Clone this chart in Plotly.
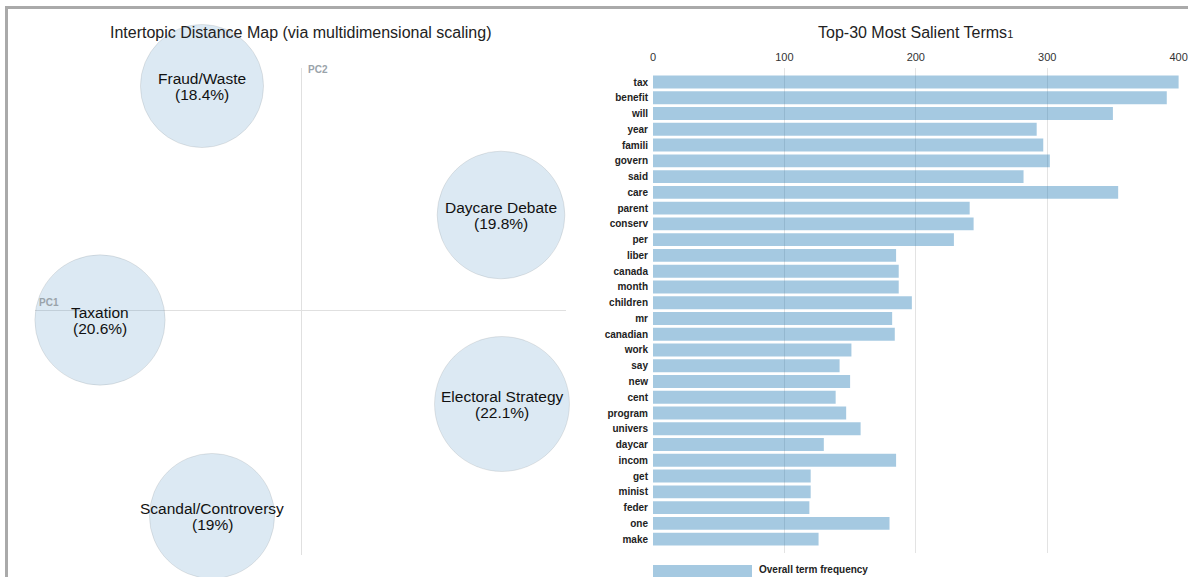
import numpy as np
import plotly.graph_objects as go

W, H = 1188, 577

# ---- Data ----
topic_labels = ["Fraud/Waste", "Daycare Debate", "Taxation", "Electoral Strategy", "Scandal/Controversy"]
topic_pct = [18.4, 19.8, 20.6, 22.1, 19.0]
topic_pct_text = ["18.4%", "19.8%", "20.6%", "22.1%", "19%"]
pc1 = [-0.099, 0.200, -0.201, 0.201, -0.089]
pc2 = [0.224, 0.095, -0.010, -0.094, -0.206]

terms = ["tax", "benefit", "will", "year", "famili", "govern", "said", "care", "parent", "conserv",
         "per", "liber", "canada", "month", "children", "mr", "canadian", "work", "say", "new",
         "cent", "program", "univers", "daycar", "incom", "get", "minist", "feder", "one", "make"]
freq = [400, 391, 350, 292, 297, 302, 282, 354, 241, 244,
        229, 185, 187, 187, 197, 182, 184, 151, 142, 150,
        139, 147, 158, 130, 185, 120, 120, 119, 180, 126]
freq_ticks = [0, 100, 200, 300, 400]

FONT = "Liberation Sans, Arial, sans-serif"
BAR_COLOR = "rgba(31,119,180,0.4)"
CIRCLE_COLOR = "rgba(31,119,180,0.22)"

def px_x(p):
    return p / W

def px_y(p):
    return 1 - p / H

fig = go.Figure()

sizes = [28.7 * np.sqrt(p) for p in topic_pct]
fig.add_trace(go.Scatter(
    x=pc1, y=pc2, xaxis="x", yaxis="y",
    mode="markers",
    marker=dict(size=sizes, sizemode="diameter", color=CIRCLE_COLOR,
                line=dict(color="rgba(0,0,0,0.13)", width=1)),
    cliponaxis=False,
    hoverinfo="skip",
))

fig.add_trace(go.Bar(
    x=freq, y=terms, orientation="h", xaxis="x2", yaxis="y2",
    marker=dict(color=BAR_COLOR, line=dict(width=0)),
    width=0.82,
    hoverinfo="skip",
))

fig.update_layout(
    width=W, height=H,
    margin=dict(l=0, r=0, t=0, b=0, autoexpand=False),
    paper_bgcolor="white", plot_bgcolor="white",
    showlegend=False,
    font=dict(family=FONT),
    xaxis=dict(domain=[px_x(35), px_x(566)], range=[-0.266, 0.265], anchor="y",
               showgrid=False, showticklabels=False, ticks="", automargin=False,
               zeroline=True, zerolinecolor="#e0e0e0", zerolinewidth=1, showline=False),
    yaxis=dict(domain=[px_y(555), px_y(68)], range=[-0.245, 0.242], anchor="x",
               showgrid=False, showticklabels=False, ticks="", automargin=False,
               zeroline=True, zerolinecolor="#e0e0e0", zerolinewidth=1, showline=False),
    xaxis2=dict(domain=[px_x(653), px_x(1179)], range=[0, 400.3], anchor="y2", side="top",
                tickvals=freq_ticks, showgrid=True, gridcolor="#e3e3e3", gridwidth=1,
                zeroline=False, showline=False, ticks="", ticklabelstandoff=4, automargin=False,
                tickfont=dict(family=FONT, size=11, color="#333")),
    yaxis2=dict(domain=[px_y(553), px_y(68)], range=[29.88, -0.89], anchor="x2",
                type="category", showgrid=False, zeroline=False, showline=False, ticks="",
                ticklabelstandoff=4, automargin=False,
                tickprefix="<b>", ticksuffix="</b>",
                tickfont=dict(family=FONT, size=10, color="#222")),
)

annotations = []
for x, y, lab, pct in zip(pc1, pc2, topic_labels, topic_pct_text):
    annotations.append(dict(text=lab, x=x, y=y, xref="x", yref="y", xanchor="center",
                            yanchor="middle", yshift=8, showarrow=False,
                            font=dict(family=FONT, size=15.5, color="#111")))
    annotations.append(dict(text=f"({pct})", x=x, y=y, xref="x", yref="y", xanchor="center",
                            yanchor="middle", yshift=-8, showarrow=False,
                            font=dict(family=FONT, size=15.5, color="#111")))

annotations += [
    dict(text="Intertopic Distance Map (via multidimensional scaling)", x=px_x(301), y=px_y(33),
         xref="paper", yref="paper", xanchor="center", yanchor="middle", showarrow=False,
         font=dict(family=FONT, size=16, color="#222")),
    dict(text="Top-30 Most Salient Terms<span style='font-size:11px'>1</span>", x=px_x(915), y=px_y(33),
         xref="paper", yref="paper", xanchor="center", yanchor="middle", showarrow=False,
         font=dict(family=FONT, size=16, color="#222")),
    dict(text="<b>PC2</b>", x=px_x(306), y=px_y(69), xref="paper", yref="paper",
         xanchor="left", yanchor="middle", showarrow=False,
         font=dict(family=FONT, size=10, color="#9aa3aa")),
    dict(text="<b>PC1</b>", x=px_x(37), y=px_y(302), xref="paper", yref="paper",
         xanchor="left", yanchor="middle", showarrow=False,
         font=dict(family=FONT, size=10, color="#9aa3aa")),
    dict(text="<b>Overall term frequency</b>", x=px_x(757), y=px_y(569), xref="paper", yref="paper",
         xanchor="left", yanchor="middle", showarrow=False,
         font=dict(family=FONT, size=10, color="#222")),
]
fig.update_layout(annotations=annotations)

shapes = [
    dict(type="rect", xref="paper", yref="paper", x0=px_x(653), x1=px_x(752),
         y0=px_y(580), y1=px_y(565), fillcolor=BAR_COLOR, line=dict(width=0)),
    dict(type="line", xref="paper", yref="paper", x0=px_x(5), x1=1, y0=px_y(7.5), y1=px_y(7.5),
         line=dict(color="#aaaaaa", width=3)),
    dict(type="line", xref="paper", yref="paper", x0=px_x(6.5), x1=px_x(6.5), y0=px_y(6), y1=0,
         line=dict(color="#aaaaaa", width=3)),
]
fig.update_layout(shapes=shapes)

fig.write_html("out.html")
